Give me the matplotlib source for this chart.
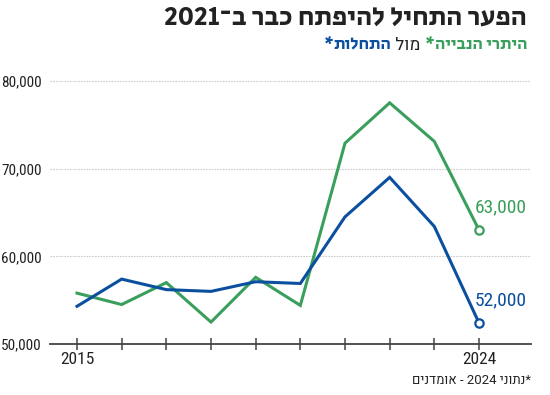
import matplotlib
matplotlib.use('Agg')
import matplotlib.pyplot as plt

# data
years = [2015, 2016, 2017, 2018, 2019, 2020, 2021, 2022, 2023, 2024]
permits = [55800, 54500, 57000, 52500, 57600, 54400, 72900, 77500, 73100, 63000]
starts = [54300, 57400, 56200, 56000, 57100, 56900, 64500, 69000, 63400, 52400]
end_labels = ['63,000', '52,000']
yticks = [50000, 60000, 70000, 80000]

green = '#3a9f5c'
blue = '#0b4f9f'
dark = '#222222'
narrow = ['Roboto Condensed', 'DejaVu Sans']
heb = ['Heebo', 'DejaVu Sans']
heb_bold = ['Secular One', 'DejaVu Sans']

fig = plt.figure(figsize=(5.5, 3.95), dpi=100)
W, H = 550, 395
# axes placed in pixel coords: x 50..531, y 68..344
ax = fig.add_axes([50 / W, 1 - 344 / H, (531 - 50) / W, (344 - 68) / H])
ax.set_xlim(2015 - 27 / 44.67, 2024 + 52 / 44.67)
ax.set_ylim(50000, 50000 + (344 - 68) / 87.7 * 10000)

ax.plot(years, permits, color=green, lw=2.2, solid_joinstyle='miter', zorder=3)
ax.plot(years, starts, color=blue, lw=2.2, solid_joinstyle='miter', zorder=3)
ax.plot(years[-1], permits[-1], 'o', ms=6, mfc='white', mec=green, mew=1.6, zorder=4)
ax.plot(years[-1], starts[-1], 'o', ms=6, mfc='white', mec=blue, mew=1.6, zorder=4)

ax.annotate(end_labels[0], (years[-1], permits[-1]), xytext=(-3, 10), textcoords='offset points',
            color=green, fontsize=14, family=narrow, ha='left', va='bottom')
ax.annotate(end_labels[1], (years[-1], starts[-1]), xytext=(-3, 10), textcoords='offset points',
            color=blue, fontsize=14, family=narrow, ha='left', va='bottom')

for s in ['top', 'right', 'left']:
    ax.spines[s].set_visible(False)
ax.spines['bottom'].set_color('#444444')
ax.spines['bottom'].set_linewidth(1.3)

ax.set_yticks(yticks)
ax.set_yticklabels([f'{v:,}' for v in yticks], family=narrow, fontsize=11, color=dark)
ax.tick_params(axis='y', length=0, pad=6)
ax.yaxis.grid(True, color='#cccccc', linestyle=(0, (1.5, 1)), lw=0.8)
ax.set_axisbelow(True)

ax.set_xticks(years)
ax.set_xticklabels(['2015'] + [''] * 8 + ['2024'], family=narrow, fontsize=12.5, color=dark)
ax.tick_params(axis='x', direction='inout', length=9, width=1.1, color='#444444', pad=1)

# title (hebrew, visual order)
fig.text(527 / W, 1 - 18 / H, '2021' + '־ב רבכ חתפיהל ליחתה רעפה', family=heb_bold, fontsize=19.5,
         color=dark, ha='right', va='center')

# subtitle built right to left from pieces
pieces = [('הייבנה ירתיה', green, heb_bold), ('*', green, heb_bold), (' לומ ', dark, heb),
          ('תולחתה', blue, heb_bold), ('*', blue, heb_bold)]
renderer = fig.canvas.get_renderer()
x = 527
for txt, col, fam in pieces:
    t = fig.text(x / W, 1 - 45 / H, txt, family=fam, fontsize=12.5,
                 color=col, ha='right', va='center')
    bb = t.get_window_extent(renderer)
    x -= bb.width

fig.text(531 / W, 1 - 381 / H, 'םינדמוא - 2024 ינותנ*', family=heb, fontsize=9.5,
         color=dark, ha='right', va='center')

fig.savefig('out.png', dpi=100)
